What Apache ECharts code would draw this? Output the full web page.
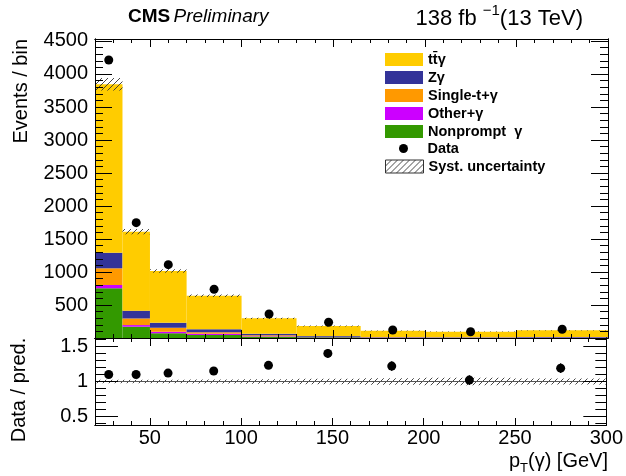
<!DOCTYPE html>
<html><head><meta charset="utf-8">
<script src="https://cdn.jsdelivr.net/npm/echarts@6/dist/echarts.min.js"></script>
<style>html,body{margin:0;padding:0;background:#fff}#c{width:626px;height:476px}</style>
</head><body><div id="c"></div>
<script>
// ---- data ----
const binEdges = [20, 35, 50, 70, 100, 130, 165, 200, 250, 300];
const ttgamma = [2552, 1197, 783, 508, 233, 150, 92, 83, 103];
const zgamma = [236, 118, 76, 45, 25, 12, 6, 4, 5];
const singleT = [253, 100, 61, 25, 12, 6, 3, 2, 3];
const otherGamma = [50, 25, 24, 18, 8, 4, 2, 2, 2];
const nonprompt = [753, 171, 71, 45, 20, 10, 5, 4, 4];
const dataCounts = [4212, 1747, 1111, 738, 364, 238, 121, 95, 132];
const systUnc = [95, 40, 25, 18, 10, 7, 5, 5, 5];
const ratioValues = [1.10, 1.10, 1.12, 1.15, 1.23, 1.40, 1.22, 1.02, 1.19];
const ratioErrors = [0.02, 0.03, 0.03, 0.04, 0.05, 0.06, 0.07, 0.07, 0.07];
const xMajorTicks = [50, 100, 150, 200, 250, 300];
const yMainLabels = [500, 1000, 1500, 2000, 2500, 3000, 3500, 4000, 4500];
const yRatioLabels = [0.5, 1, 1.5];

const FONT = 'Liberation Sans, Arial, Helvetica, sans-serif';
const nBins = binEdges.length - 1;

// minor tick positions
const xMinor = []; for (let v = 30; v < 300; v += 10) xMinor.push(v);
const yMainMajor = [0].concat(yMainLabels);
const yMainMinor = []; for (let v = 100; v <= 4500; v += 100) yMainMinor.push(v);
const yRatioMinor = []; for (let k = 4; k <= 16; k++) yRatioMinor.push(k / 10);

// stacking
const components = [
  {name: 'Nonprompt  γ', vals: nonprompt, color: '#339900'},
  {name: 'Other+γ', vals: otherGamma, color: '#cc00ff'},
  {name: 'Single-t+γ', vals: singleT, color: '#ff9900'},
  {name: 'Zγ', vals: zgamma, color: '#333399'},
  {name: 'tt̄γ', vals: ttgamma, color: '#ffcc00'}
];
const base = new Array(nBins).fill(0);
const stackSeries = components.map(c => {
  const d = [];
  for (let i = 0; i < nBins; i++) {
    d.push([binEdges[i], binEdges[i + 1], base[i], base[i] + c.vals[i]]);
    base[i] += c.vals[i];
  }
  return {
    type: 'custom', name: c.name, xAxisIndex: 0, yAxisIndex: 0, z: 1,
    itemStyle: {color: c.color},
    encode: {x: [0, 1], y: [2, 3]},
    renderItem: rectItem,
    data: d
  };
});
const totals = base.slice();

// hatch pattern
const hc = document.createElement('canvas'); hc.width = 6; hc.height = 6;
const g = hc.getContext('2d');
g.strokeStyle = '#333'; g.lineWidth = 0.9;
g.beginPath(); g.moveTo(0, 6); g.lineTo(6, 0);
g.moveTo(-1, 1); g.lineTo(1, -1); g.moveTo(5, 7); g.lineTo(7, 5); g.stroke();
const hatch = {image: hc, repeat: 'repeat'};

function rectItem(params, api) {
  const p0 = api.coord([api.value(0), api.value(3)]);
  const p1 = api.coord([api.value(1), api.value(2)]);
  return {type: 'rect', shape: {x: p0[0], y: p0[1], width: p1[0] - p0[0], height: p1[1] - p0[1]},
    style: {fill: api.visual('color')}};
}
function hatchItem(params, api) {
  const p0 = api.coord([api.value(0), api.value(3)]);
  const p1 = api.coord([api.value(1), api.value(2)]);
  return {type: 'rect', shape: {x: p0[0], y: p0[1], width: p1[0] - p0[0], height: p1[1] - p0[1]},
    style: {fill: hatch}};
}
function ratioBandItem(params, api) {
  const p0 = api.coord([api.value(0), api.value(3)]);
  const p1 = api.coord([api.value(1), api.value(2)]);
  const pm = api.coord([api.value(0), 1]);
  return {type: 'group', children: [
    {type: 'rect', shape: {x: p0[0], y: p0[1], width: p1[0] - p0[0], height: p1[1] - p0[1]}, style: {fill: hatch}},
    {type: 'line', shape: {x1: p0[0], y1: pm[1], x2: p1[0], y2: pm[1]}, style: {stroke: '#555', lineWidth: 1}}
  ]};
}
function errItem(params, api) {
  const x = api.value(0);
  const a = api.coord([x, api.value(1) - api.value(2)]);
  const b = api.coord([x, api.value(1) + api.value(2)]);
  return {type: 'line', shape: {x1: a[0], y1: a[1], x2: b[0], y2: b[1]}, style: {stroke: '#000', lineWidth: 1.2}};
}

const centers = [];
for (let i = 0; i < nBins; i++) centers.push((binEdges[i] + binEdges[i + 1]) / 2);

const hatchData = [], ratioBand = [], dataPts = [], ratioPts = [], ratioErr = [];
for (let i = 0; i < nBins; i++) {
  hatchData.push([binEdges[i], binEdges[i + 1], totals[i] - systUnc[i], totals[i] + systUnc[i]]);
  const rel = systUnc[i] / totals[i];
  ratioBand.push([binEdges[i], binEdges[i + 1], 1 - rel, 1 + rel]);
  dataPts.push([centers[i], dataCounts[i]]);
  ratioPts.push([centers[i], ratioValues[i]]);
  ratioErr.push([centers[i], ratioValues[i], ratioErrors[i]]);
}

// ---- axes ----
const plain = v => String(v);
function xAx(grid, pos, ticks, len, labels) {
  return {type: 'value', gridIndex: grid, position: pos, min: 20, max: 300, z: 10,
    axisLine: {show: true, onZero: false, lineStyle: {color: '#000', width: 1}},
    axisTick: {show: true, inside: true, length: len, customValues: ticks, lineStyle: {color: '#000', width: 1}},
    axisLabel: labels ? {show: true, customValues: labels, formatter: plain, color: '#000', fontSize: 20, fontFamily: FONT, margin: 3} : {show: false},
    splitLine: {show: false}};
}
function yAx(grid, pos, min, max, ticks, len, labels) {
  return {type: 'value', gridIndex: grid, position: pos, min: min, max: max, z: 10,
    axisLine: {show: true, onZero: false, lineStyle: {color: '#000', width: 1}},
    axisTick: {show: true, inside: true, length: len, customValues: ticks, lineStyle: {color: '#000', width: 1}},
    axisLabel: labels ? {show: true, customValues: labels, formatter: plain, color: '#000', fontSize: 20, fontFamily: FONT, margin: 7} : {show: false},
    splitLine: {show: false}};
}

const legendText = {fontFamily: FONT, fontWeight: 'bold', fontSize: 14.5, color: '#000'};

const chart = echarts.init(document.getElementById('c'), null, {renderer: 'canvas'});
chart.setOption({
  animation: false,
  backgroundColor: '#fff',
  grid: [
    {left: 95, right: 18, top: 39, height: 299},
    {left: 95, right: 18, top: 338, height: 87}
  ],
  xAxis: [
    xAx(0, 'bottom', xMajorTicks, 8, null),
    xAx(0, 'bottom', xMinor, 4, null),
    xAx(0, 'top', xMajorTicks, 8, null),
    xAx(0, 'top', xMinor, 4, null),
    xAx(1, 'bottom', xMajorTicks, 7, xMajorTicks),
    xAx(1, 'bottom', xMinor, 4, null),
    xAx(1, 'top', xMajorTicks, 8, null),
    xAx(1, 'top', xMinor, 4, null)
  ],
  yAxis: [
    yAx(0, 'left', 0, 4530, yMainMajor, 17, yMainLabels),
    yAx(0, 'left', 0, 4530, yMainMinor, 8, null),
    yAx(0, 'right', 0, 4530, yMainMajor, 17, null),
    yAx(0, 'right', 0, 4530, yMainMinor, 8, null),
    yAx(1, 'left', 0.38, 1.62, yRatioLabels, 23, yRatioLabels),
    yAx(1, 'left', 0.38, 1.62, yRatioMinor, 11, null),
    yAx(1, 'right', 0.38, 1.62, yRatioLabels, 23, null),
    yAx(1, 'right', 0.38, 1.62, yRatioMinor, 11, null)
  ],
  legend: [
    {orient: 'vertical', left: 385, top: 52, padding: 0, itemWidth: 38, itemHeight: 13, itemGap: 3, itemTextGap: 6,
      icon: 'rect', selectedMode: false, textStyle: legendText,
      data: ['tt̄γ', 'Zγ', 'Single-t+γ', 'Other+γ', 'Nonprompt  γ']},
    {orient: 'vertical', left: 399, top: 141, padding: 0, itemWidth: 38, itemHeight: 9, itemTextGap: 8,
      icon: 'circle', selectedMode: false, textStyle: legendText,
      itemStyle: {opacity: 1},
      data: ['Data']},
    {orient: 'vertical', left: 385, top: 159, padding: 0, itemWidth: 38, itemHeight: 13, itemTextGap: 6,
      icon: 'rect', selectedMode: false,
      itemStyle: {borderColor: '#333', borderWidth: 1},
      textStyle: legendText,
      data: ['Syst. uncertainty']}
  ],
  graphic: [
    {type: 'text', left: 128, top: 7, z: 20, style: {
      text: '{b|CMS} {i|Preliminary}',
      rich: {b: {fontFamily: FONT, fontWeight: 'bold', fontSize: 19, fill: '#000'},
             i: {fontFamily: FONT, fontStyle: 'italic', fontSize: 19, fill: '#000'}}}},
    {type: 'text', right: 43, top: 3, z: 20, style: {
      text: '{n|138 fb }{s|−1}{n|(13 TeV)}',
      rich: {n: {fontFamily: FONT, fontSize: 22, fill: '#000', lineHeight: 27, verticalAlign: 'bottom'},
             s: {fontFamily: FONT, fontSize: 15, fill: '#000', lineHeight: 16, verticalAlign: 'top'}}}},
    {type: 'text', x: 21, y: 39, rotation: Math.PI / 2, z: 20, style: {
      text: 'Events / bin', fontFamily: FONT, fontSize: 20, fill: '#000', align: 'right', verticalAlign: 'middle'}},
    {type: 'text', x: 19, y: 390, rotation: Math.PI / 2, z: 20, style: {
      text: 'Data / pred.', fontFamily: FONT, fontSize: 20, fill: '#000', align: 'center', verticalAlign: 'middle'}},
    {type: 'text', right: 18, top: 451, z: 20, style: {
      text: '{m|p}{s|T}{m|(γ) [GeV]}',
      rich: {m: {fontFamily: FONT, fontSize: 20, fill: '#000', lineHeight: 24, verticalAlign: 'top'},
             s: {fontFamily: FONT, fontSize: 13, fill: '#000', lineHeight: 12, verticalAlign: 'bottom'}}}}
  ],
  series: stackSeries.concat([
    {type: 'custom', name: 'Syst. uncertainty', xAxisIndex: 0, yAxisIndex: 0, z: 2,
      itemStyle: {color: hatch, borderColor: '#333', borderWidth: 1},
      encode: {x: [0, 1], y: [2, 3]}, renderItem: hatchItem, data: hatchData},
    {type: 'scatter', name: 'Data', xAxisIndex: 0, yAxisIndex: 0, z: 3,
      symbol: 'circle', symbolSize: 9, itemStyle: {color: '#000', opacity: 1}, data: dataPts},
    {type: 'custom', name: 'ratioBand', xAxisIndex: 4, yAxisIndex: 4, z: 2,
      encode: {x: [0, 1], y: [2, 3]}, renderItem: ratioBandItem, data: ratioBand},
    {type: 'custom', name: 'ratioErr', xAxisIndex: 4, yAxisIndex: 4, z: 3,
      encode: {x: 0, y: 1}, renderItem: errItem, data: ratioErr},
    {type: 'scatter', name: 'ratio', xAxisIndex: 4, yAxisIndex: 4, z: 4,
      symbol: 'circle', symbolSize: 9, itemStyle: {color: '#000', opacity: 1}, data: ratioPts}
  ])
});
</script></body></html>
